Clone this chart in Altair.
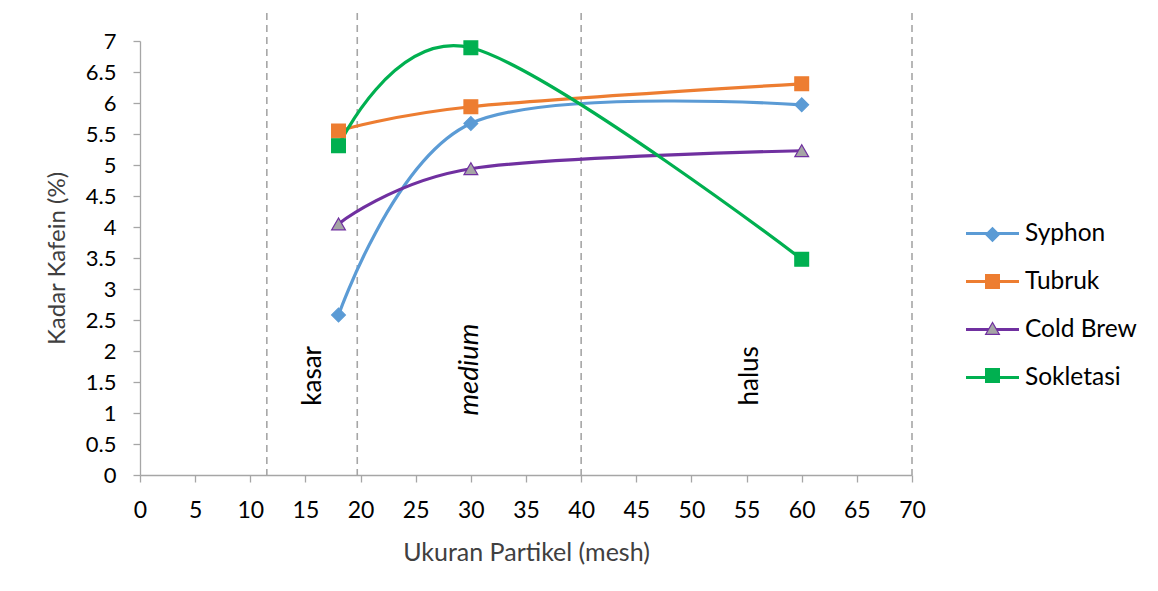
import altair as alt
import pandas as pd

# ---- data ----
x_mesh = [18, 30, 60]
syphon = [2.58, 5.67, 5.97]
tubruk = [5.55, 5.94, 6.31]
cold_brew = [4.05, 4.94, 5.23]
sokletasi = [5.31, 6.89, 3.48]

series_names = ["Syphon", "Tubruk", "Cold Brew", "Sokletasi"]
series_values = [syphon, tubruk, cold_brew, sokletasi]

line_colors = ["#5B9BD5", "#ED7D31", "#7030A0", "#00B050"]
marker_fills = ["#5B9BD5", "#ED7D31", "#A5A5A5", "#00B050"]
marker_shapes = ["diamond", "square", "triangle-up", "square"]

x_ticks = [0, 5, 10, 15, 20, 25, 30, 35, 40, 45, 50, 55, 60, 65, 70]
y_ticks = [0, 0.5, 1, 1.5, 2, 2.5, 3, 3.5, 4, 4.5, 5, 5.5, 6, 6.5, 7]

boundary_x = [11.5, 19.7, 40, 70]
boundary_top = 7.45

zone_labels = ["kasar", "medium", "halus"]
zone_x = [15.7, 29.9, 55.3]
zone_y = [1.6, 1.7, 1.6]
zone_style = ["normal", "italic", "normal"]

FONT = "Lato"

# marker legend keys (that legend shows only symbols; the line legend shows the names)
marker_keys = [n + " (marker)" for n in series_names]

rows = []
for name, key, vals in zip(series_names, marker_keys, series_values):
    for xv, yv in zip(x_mesh, vals):
        rows.append({"series": name, "marker_key": key, "x": xv, "y": yv})
df = pd.DataFrame(rows)
rule_df = pd.DataFrame({"x": boundary_x})
zone_df = pd.DataFrame({"label": zone_labels, "x": zone_x, "y": zone_y, "style": zone_style})

x_scale = alt.Scale(domain=[0, 70], nice=False, zero=False)
y_scale = alt.Scale(domain=[0, 7], nice=False)
x_axis = alt.Axis(values=x_ticks, title="Ukuran Partikel (mesh)", grid=False,
                  labelPadding=17, titlePadding=18, format="d",
                  labelFlush=False, labelOverlap=False, labelBound=False)
y_axis = alt.Axis(values=y_ticks, title="Kadar Kafein (%)", grid=False,
                  labelPadding=17, titlePadding=16, format="~g",
                  labelFlush=False, labelOverlap=False, labelBound=False)

rules = alt.Chart(rule_df).mark_rule(
    strokeDash=[7, 5], color="#A6A6A6", strokeWidth=1.6
).encode(
    x=alt.X("x:Q", scale=x_scale, axis=x_axis),
    y=alt.YDatum(boundary_top, scale=y_scale, axis=y_axis),
    y2=alt.datum(0),
)

lines = alt.Chart(df).mark_line(strokeWidth=3.2, interpolate="cardinal").encode(
    x=alt.X("x:Q", scale=x_scale, axis=x_axis),
    y=alt.Y("y:Q", scale=y_scale, axis=y_axis),
    color=alt.Color(
        "series:N",
        scale=alt.Scale(domain=series_names, range=line_colors),
        legend=alt.Legend(
            title=None, orient="none", legendX=824, legendY=164,
            symbolType="stroke", symbolStrokeWidth=3.2, symbolSize=2809,
            labelFont=FONT, labelFontSize=24.5, labelColor="#000000",
            labelOffset=4, rowPadding=8,
        ),
    ),
)

marker_legend = alt.Legend(
    title=None, orient="none", legendX=841, legendY=182,
    labelExpr="''", labelFontSize=23, labelFont=FONT, rowPadding=23,
    symbolStrokeWidth=1.2, symbolSize=190,
)
points = alt.Chart(df).mark_point(filled=True, size=190, strokeWidth=1.2, opacity=1).encode(
    x=alt.X("x:Q", scale=x_scale, axis=x_axis),
    y=alt.Y("y:Q", scale=y_scale, axis=y_axis),
    shape=alt.Shape("marker_key:N", scale=alt.Scale(domain=marker_keys, range=marker_shapes), legend=marker_legend),
    fill=alt.Fill("marker_key:N", scale=alt.Scale(domain=marker_keys, range=marker_fills), legend=marker_legend),
    stroke=alt.Stroke("marker_key:N", scale=alt.Scale(domain=marker_keys, range=line_colors), legend=marker_legend),
)

zone_normal = alt.Chart(zone_df).transform_filter(alt.datum.style == "normal").mark_text(
    angle=270, font=FONT, fontSize=26, color="#000000"
).encode(x=alt.X("x:Q", scale=x_scale, axis=x_axis), y=alt.Y("y:Q", scale=y_scale, axis=y_axis), text="label:N")
zone_italic = alt.Chart(zone_df).transform_filter(alt.datum.style == "italic").mark_text(
    angle=270, font=FONT, fontSize=27.5, fontStyle="italic", color="#000000"
).encode(x=alt.X("x:Q", scale=x_scale, axis=x_axis), y=alt.Y("y:Q", scale=y_scale, axis=y_axis), text="label:N")

chart = alt.layer(rules, lines, points, zone_normal, zone_italic).properties(
    width=772, height=434,
    autosize=alt.AutoSizeParams(type="none"),
    padding={"left": 140, "top": 41, "right": 246, "bottom": 116},
    background="white",
).configure_view(stroke=None).configure_axis(
    domainColor="#A6A6A6", domainWidth=1.3, tickColor="#A6A6A6", tickWidth=1.3, tickSize=7,
    labelFont=FONT, labelColor="#000000",
    titleFont=FONT, titleColor="#404040", titleFontWeight="normal",
).configure_axisX(titleFontSize=25, labelFontSize=23).configure_axisY(titleFontSize=24, labelFontSize=22)

chart.save("out.html", embed_options={"renderer": "svg", "actions": False})
